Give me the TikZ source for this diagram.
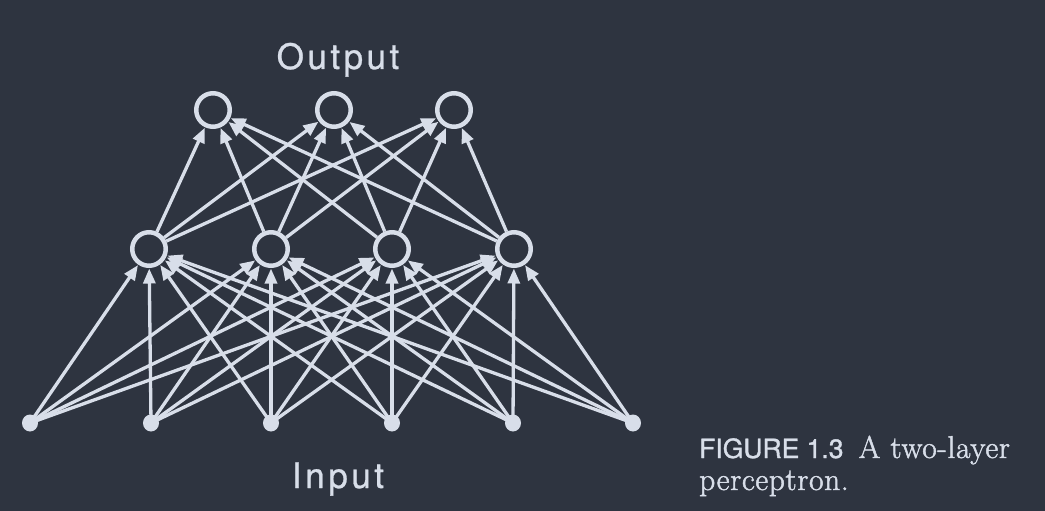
\documentclass[tikz,border=0pt]{standalone}
\usepackage{fontspec}
\newfontfamily\labelfont[LetterSpace=10,FakeBold=0.8]{TeX Gyre Heros}
\newfontfamily\capsans[FakeBold=1.2]{TeX Gyre Heros}
\newfontfamily\capserif[FakeBold=1.5,LetterSpace=2]{Latin Modern Roman}
\usetikzlibrary{arrows.meta,shapes.geometric}
\definecolor{bg}{HTML}{2E3440}
\definecolor{fg}{HTML}{D8DEE9}
\begin{document}
\begin{tikzpicture}[x=1pt,y=-1pt,
  unit/.style={circle,draw=fg,line width=4.5pt,minimum size=33.5pt,inner sep=0pt},
  dot/.style={ellipse,fill=fg,minimum width=16pt,minimum height=17pt,inner sep=0pt},
  conn/.style={draw=fg,line width=3.3pt,-{Triangle[length=15pt,width=12pt]},shorten >=0.5pt},
  lbl/.style={text=fg,font=\labelfont\fontsize{35}{40}\selectfont,anchor=base,inner sep=0pt},
  captext/.style={text=fg,anchor=base west,inner sep=0pt}]
\useasboundingbox (0,0) rectangle (1045,511);
\fill[bg] (0,0) rectangle (1045,511);
% output
\node[unit] (o1) at (213,110) {};
\node[unit] (o2) at (334,110) {};
\node[unit] (o3) at (454,110) {};
% hidden
\node[unit] (h1) at (149,249) {};
\node[unit] (h2) at (271,249) {};
\node[unit] (h3) at (392,249) {};
\node[unit] (h4) at (514,249) {};
% input
\foreach \i/\x in {1/30,2/151,3/271,4/392,5/513,6/633}
  \node[dot] (i\i) at (\x,423) {};
\foreach \i in {1,...,6}
  \foreach \h in {1,...,4}
    \draw[conn] (i\i.center) -- (h\h);
\foreach \h in {1,...,4}
  \foreach \o in {1,2,3}
    \draw[conn] (h\h) -- (o\o);
\node[lbl] (out) at (338,69) {Output};
\node[lbl] (inp) at (338,488) {Input};
\node[captext] (c1) at (699,458) {{\capsans\fontsize{26.5}{32}\selectfont FIGURE 1.3}\hspace{15pt}{\capserif\fontsize{31.5}{32}\selectfont A two-layer}};
\node[captext] (c2) at (699,490) {\capserif\fontsize{31.5}{32}\selectfont perceptron.};
\end{tikzpicture}
\end{document}
